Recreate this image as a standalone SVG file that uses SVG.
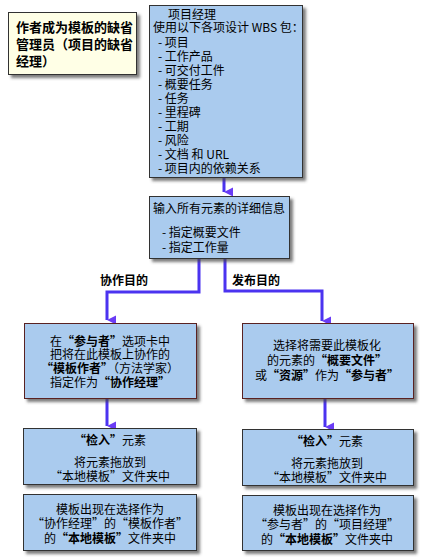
<svg xmlns="http://www.w3.org/2000/svg" width="425" height="559" viewBox="0 0 425 559">
<defs>
<filter id="sh" x="-10%" y="-10%" width="130%" height="130%">
<feDropShadow dx="3" dy="3" stdDeviation="1.5" flood-color="#444" flood-opacity="0.7"/>
</filter>
<marker id="ah" viewBox="0 0 10 10" refX="5" refY="10" markerWidth="10" markerHeight="9" markerUnits="userSpaceOnUse" orient="auto-start-reverse">
<path d="M0,0 L10,0 L5,10 Z" fill="#6a3cf5"/>
</marker>
</defs>
<style>
text{font-family:"Noto Sans CJK SC","Liberation Sans",sans-serif;font-size:12px;fill:#000}
.c{text-anchor:middle}
.b{font-weight:bold}
.box{fill:#aacbee;stroke:#333;stroke-width:1;filter:url(#sh)}
.note{fill:#ffffe6;stroke:#333;stroke-width:1;filter:url(#sh)}
.ln{fill:none;stroke:#4b33f0;stroke-width:3}
</style>
<rect width="425" height="559" fill="#fff"/>
<g id="note">
<rect class="note" x="8.5" y="12.5" width="128" height="62"/>
<text class="b" x="16" y="32" style="font-size:13px">作者成为模板的缺省</text>
<text class="b" x="16" y="49" style="font-size:13px">管理员（项目的缺省</text>
<text class="b" x="16" y="66" style="font-size:13px">经理）</text>
</g>
<g id="connectors">
<path class="ln" d="M224,177 V192" marker-end="url(#ah)"/>
<path class="ln" d="M199,258 V292 H107 V320" marker-end="url(#ah)"/>
<path class="ln" d="M225,258 V291 H322 V321" marker-end="url(#ah)"/>
<path class="ln" d="M107,398 V426" marker-end="url(#ah)"/>
<path class="ln" d="M325,398 V427" marker-end="url(#ah)"/>
</g>
<g id="wbs">
<rect class="box" x="149.5" y="5.5" width="153" height="172"/>
<text x="168" y="18.5">项目经理</text>
<text x="153" y="32">使用以下各项设计 WBS 包：</text>
<text x="158" y="46.5">- 项目</text>
<text x="158" y="60.5">- 工作产品</text>
<text x="158" y="74.5">- 可交付工件</text>
<text x="158" y="88.5">- 概要任务</text>
<text x="158" y="102.5">- 任务</text>
<text x="158" y="116.5">- 里程碑</text>
<text x="158" y="130.5">- 工期</text>
<text x="158" y="144.5">- 风险</text>
<text x="158" y="158.5">- 文档 和 URL</text>
<text x="158" y="172.5">- 项目内的依赖关系</text>
</g>
<g id="details">
<rect class="box" x="149.5" y="196.5" width="140" height="62"/>
<text x="153" y="212.5">输入所有元素的详细信息</text>
<text x="162" y="236.5">- 指定概要文件</text>
<text x="162" y="251.5">- 指定工作量</text>
</g>
<g id="label-collab">
<text class="b" x="100" y="284.5">协作目的</text>
</g>
<g id="label-publish">
<text class="b" x="232" y="284.5">发布目的</text>
</g>
<g id="assign-collab">
<rect class="box" x="24.5" y="323.5" width="172" height="75" style="stroke:#5a2020"/>
<text class="c" x="110" y="345.5">在<tspan class="b">“参与者”</tspan>选项卡中</text>
<text class="c" x="110" y="358.5">把将在此模板上协作的</text>
<text class="c" x="110" y="372.5"><tspan class="b">“模板作者”</tspan>（方法学家）</text>
<text class="c" x="110" y="386.5">指定作为<tspan class="b">“协作经理”</tspan></text>
</g>
<g id="assign-publish">
<rect class="box" x="242.5" y="323.5" width="171" height="75" style="stroke:#5a2020"/>
<text class="c" x="327" y="349.5">选择将需要此模板化</text>
<text class="c" x="327" y="364.5">的元素的<tspan class="b">“概要文件”</tspan></text>
<text class="c" x="327" y="379.5">或<tspan class="b">“资源”</tspan>作为<tspan class="b">“参与者”</tspan></text>
</g>
<g id="checkin-left">
<rect class="box" x="23.5" y="428.5" width="173" height="56"/>
<text class="c" x="110" y="444.5"><tspan class="b">“检入”</tspan>元素</text>
<text class="c" x="110" y="466.5">将元素拖放到</text>
<text class="c" x="110" y="480.5">“本地模板”文件夹中</text>
</g>
<g id="checkin-right">
<rect class="box" x="242.5" y="429.5" width="171" height="56"/>
<text class="c" x="327" y="445.5"><tspan class="b">“检入”</tspan>元素</text>
<text class="c" x="327" y="467.5">将元素拖放到</text>
<text class="c" x="327" y="481.5">“本地模板”文件夹中</text>
</g>
<g id="result-left">
<rect class="box" x="23.5" y="494.5" width="173" height="56"/>
<text class="c" x="110" y="513.5">模板出现在选择作为</text>
<text class="c" x="110" y="527.5">“协作经理”的“模板作者”</text>
<text class="c" x="110" y="542.5">的<tspan class="b">“本地模板”</tspan>文件夹中</text>
</g>
<g id="result-right">
<rect class="box" x="242.5" y="495.5" width="171" height="55"/>
<text class="c" x="327" y="514.5">模板出现在选择作为</text>
<text class="c" x="327" y="528.5">“参与者”的“项目经理”</text>
<text class="c" x="327" y="543.5">的<tspan class="b">“本地模板”</tspan>文件夹中</text>
</g>
</svg>
